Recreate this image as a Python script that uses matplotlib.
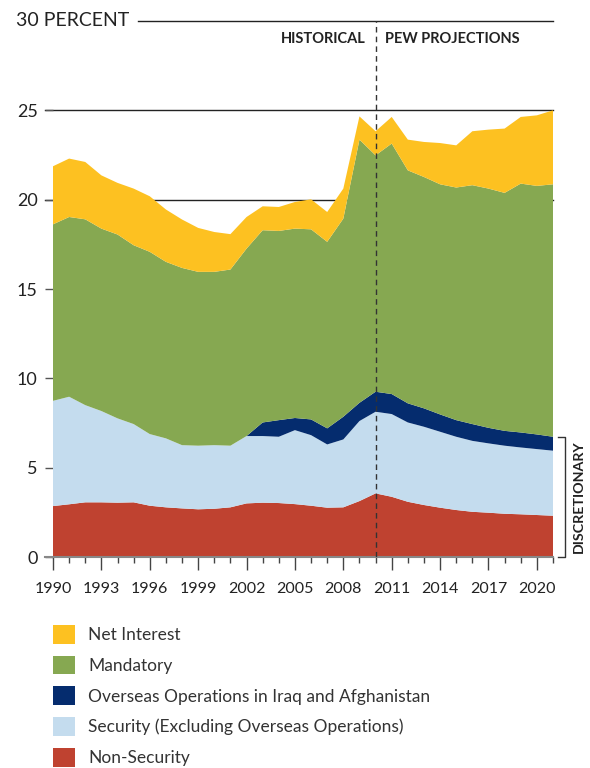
import matplotlib.pyplot as plt
from matplotlib.patches import Patch

plt.rcParams['font.family'] = ['Lato', 'DejaVu Sans']

years = list(range(1990, 2022))

non_security = [2.85, 2.95, 3.06, 3.06, 3.04, 3.06, 2.87, 2.78, 2.72, 2.67, 2.70, 2.78,
                3.00, 3.04, 3.02, 2.96, 2.87, 2.76, 2.78, 3.13, 3.56, 3.37, 3.09, 2.91,
                2.76, 2.63, 2.53, 2.48, 2.42, 2.39, 2.35, 2.31]
security = [5.89, 6.02, 5.44, 5.11, 4.72, 4.38, 4.01, 3.86, 3.54, 3.56, 3.56, 3.45,
            3.77, 3.73, 3.71, 4.14, 3.95, 3.54, 3.80, 4.48, 4.57, 4.63, 4.44, 4.38,
            4.25, 4.10, 3.97, 3.88, 3.81, 3.74, 3.69, 3.64]
overseas = [0, 0, 0, 0, 0, 0, 0, 0, 0, 0, 0, 0,
            0, 0.76, 0.93, 0.68, 0.88, 0.90, 1.27, 1.02, 1.12, 1.12, 1.07, 1.03,
            0.97, 0.93, 0.94, 0.87, 0.83, 0.84, 0.82, 0.78]
mandatory = [9.88, 10.06, 10.40, 10.21, 10.29, 10.01, 10.20, 9.88, 9.92, 9.73, 9.70, 9.86,
             10.49, 10.76, 10.59, 10.60, 10.64, 10.44, 11.09, 14.73, 13.23, 14.02, 13.04, 12.95,
             12.88, 13.02, 13.37, 13.39, 13.32, 13.93, 13.91, 14.13]
net_interest = [3.25, 3.27, 3.21, 2.98, 2.89, 3.17, 3.11, 2.93, 2.71, 2.46, 2.23, 1.98,
                1.77, 1.34, 1.34, 1.49, 1.68, 1.67, 1.68, 1.30, 1.35, 1.49, 1.72, 1.96,
                2.31, 2.36, 3.02, 3.30, 3.60, 3.73, 3.95, 4.14]

labels = ["Non-Security", "Security (Excluding Overseas Operations)",
          "Overseas Operations in Iraq and Afghanistan", "Mandatory", "Net Interest"]
colors = ["#BF4230", "#C4DCEE", "#052C6E", "#86A851", "#FDC121"]

fig = plt.figure(figsize=(5.9, 7.68), dpi=100)
ax = fig.add_axes([53 / 590, 1 - 557 / 768, 500 / 590, 536 / 768])

ax.stackplot(years, non_security, security, overseas, mandatory, net_interest,
             colors=colors, linewidth=0, zorder=2)

ax.set_xlim(1990, 2021)
ax.set_ylim(0, 30)

# horizontal reference lines
for v in [20, 25]:
    ax.axhline(v, xmin=-0.016, xmax=1, color="#222222", lw=1, zorder=1, clip_on=False)
ax.axhline(30, xmin=0.17, xmax=1, color="#222222", lw=1, zorder=1, clip_on=False)

# historical / projection divider
ax.axvline(2010, color="#333333", lw=1, linestyle=(0, (4, 3)), zorder=3)
ax.text(2009.4, 29.0, "HISTORICAL", ha="right", va="center", fontsize=10.5,
        fontweight="bold", color="#222222")
ax.text(2010.6, 29.0, "PEW PROJECTIONS", ha="left", va="center", fontsize=10.5,
        fontweight="bold", color="#222222")

for s in ["top", "right", "left"]:
    ax.spines[s].set_visible(False)
ax.spines["bottom"].set_color("#888888")
ax.spines["bottom"].set_linewidth(1.5)
ax.spines["bottom"].set_bounds(1989.5, 2021)

ax.set_yticks([0, 5, 10, 15, 20, 25])
ax.set_yticklabels(["0", "5", "10", "15", "20", "25"])
ax.tick_params(axis="y", length=6, width=1, color="#555555", pad=5,
               labelsize=13, labelcolor="#222222")
ax.text(-0.075, 30, "30 PERCENT", transform=ax.get_yaxis_transform(),
        ha="left", va="center", fontsize=14, color="#222222")

ax.set_xticks(list(range(1990, 2021, 3)))
ax.set_xticks(years, minor=True)
ax.tick_params(axis="x", which="major", length=9, width=1, color="#444444",
               pad=9, labelsize=11.5, labelcolor="#222222")
ax.tick_params(axis="x", which="minor", length=4.5, width=1, color="#444444")

# discretionary bracket
disc_top = non_security[-1] + security[-1] + overseas[-1]
ax.plot([2021.3, 2021.75, 2021.75, 2021.3], [disc_top, disc_top, 0, 0],
        color="#333333", lw=1, clip_on=False)
ax.text(2022.6, disc_top / 2, "DISCRETIONARY", rotation=90, ha="center", va="center",
        fontsize=10.3, fontweight="bold", color="#222222", clip_on=False)

handles = [Patch(facecolor=c, edgecolor="none") for c in colors[::-1]]
fig.legend(handles, labels[::-1], loc="upper left",
           bbox_to_anchor=(53 / 590, 1 - 625 / 768), frameon=False, fontsize=12.5,
           handlelength=1.27, handleheight=1.27, labelspacing=0.7,
           handletextpad=0.75, borderpad=0, borderaxespad=0,
           labelcolor="#333333")

fig.savefig("out.png", dpi=100)
